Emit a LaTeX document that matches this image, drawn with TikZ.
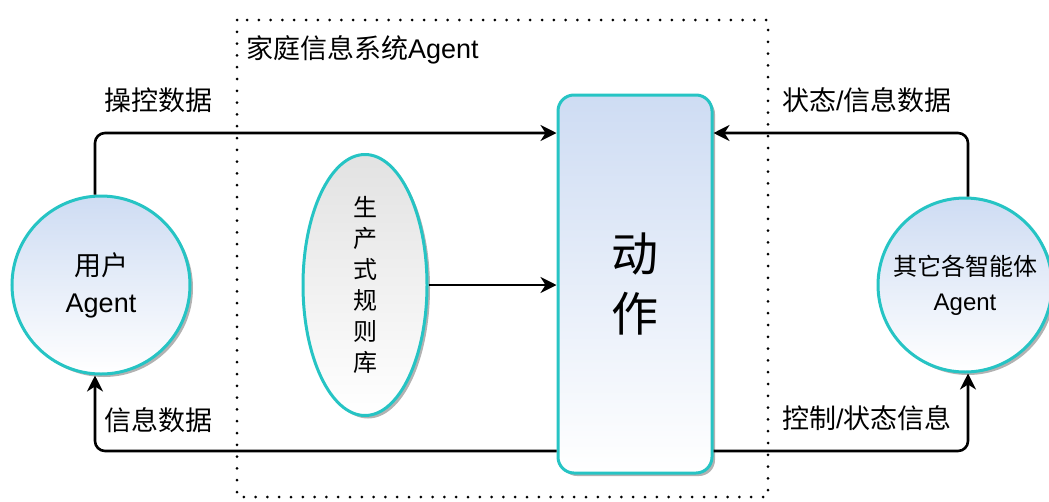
\documentclass[tikz,border=0pt]{standalone}
\usepackage{fontspec}
\setmainfont{Liberation Sans}
\newfontfamily\cjk{Noto Sans CJK SC}
\usetikzlibrary{arrows.meta,shapes.geometric,shadows}
\definecolor{tealb}{RGB}{38,196,196}
\definecolor{bluetop}{RGB}{206,220,243}
\definecolor{greytop}{RGB}{226,226,226}
\begin{document}
\begin{tikzpicture}[x=1pt,y=-1pt,
  shd/.style={drop shadow={shadow xshift=3pt,shadow yshift=-3pt,fill=black!30,opacity=1}},
  agent/.style={circle,draw=tealb,line width=3pt,top color=bluetop,bottom color=white,shd,align=center,inner sep=0pt},
  rulebox/.style={ellipse,draw=tealb,line width=3pt,top color=greytop,bottom color=white,shd,align=center,inner sep=0pt,minimum width=124pt,minimum height=261pt},
  actbox/.style={rectangle,rounded corners=16pt,draw=tealb,line width=3pt,top color=bluetop,bottom color=white,shd,align=center,minimum width=154pt,minimum height=378pt},
  conn/.style={line width=2.6pt,rounded corners=10pt,-{Stealth[length=16pt,width=16pt,inset=5pt]}},
  lbl/.style={anchor=west,inner sep=0pt,font=\fontsize{27}{30}\selectfont},
  sysbox/.style={line width=3pt,dash pattern=on 0pt off 11.8pt,line cap=round}
]
\useasboundingbox (0,0) rectangle (1049,501);
\draw[sysbox] (237,20) rectangle (768,497);
\node[lbl] (title) at (246,50) {{\cjk 家庭信息系统}Agent};

\node[agent,minimum size=178pt,font=\fontsize{27}{37}\selectfont] (user) at (101,285) {{\cjk 用户}\\Agent};
\node[agent,minimum size=174pt,font=\fontsize{24}{35}\selectfont] (other) at (965,285) {{\cjk 其它各智能体}\\Agent};
\node[rulebox,font=\fontsize{24}{31}\cjk] (rules) at (365,285) {生\\产\\式\\规\\则\\库};
\node[actbox,font=\fontsize{47}{60}\cjk] (act) at (635,284) {动\\作};

\coordinate (ytop) at (0,133);
\coordinate (ybot) at (0,451);
\draw[conn] ([xshift=-6pt]user.north) |- (act.west |- ytop);
\draw[conn] ([xshift=3pt]other.north) |- (act.east |- ytop);
\draw[conn] (rules.east) -- (rules.east -| act.west);
\draw[conn] (act.west |- ybot) -| ([xshift=-6pt]user.south);
\draw[conn] (act.east |- ybot) -| ([xshift=3pt]other.south);

\node[lbl] (l1) at (104,100) {\cjk 操控数据};
\node[lbl] (l2) at (782,100) {{\cjk 状态}/{\cjk 信息数据}};
\node[lbl] (l3) at (104,420) {\cjk 信息数据};
\node[lbl] (l4) at (782,418) {{\cjk 控制}/{\cjk 状态信息}};
\end{tikzpicture}
\end{document}
